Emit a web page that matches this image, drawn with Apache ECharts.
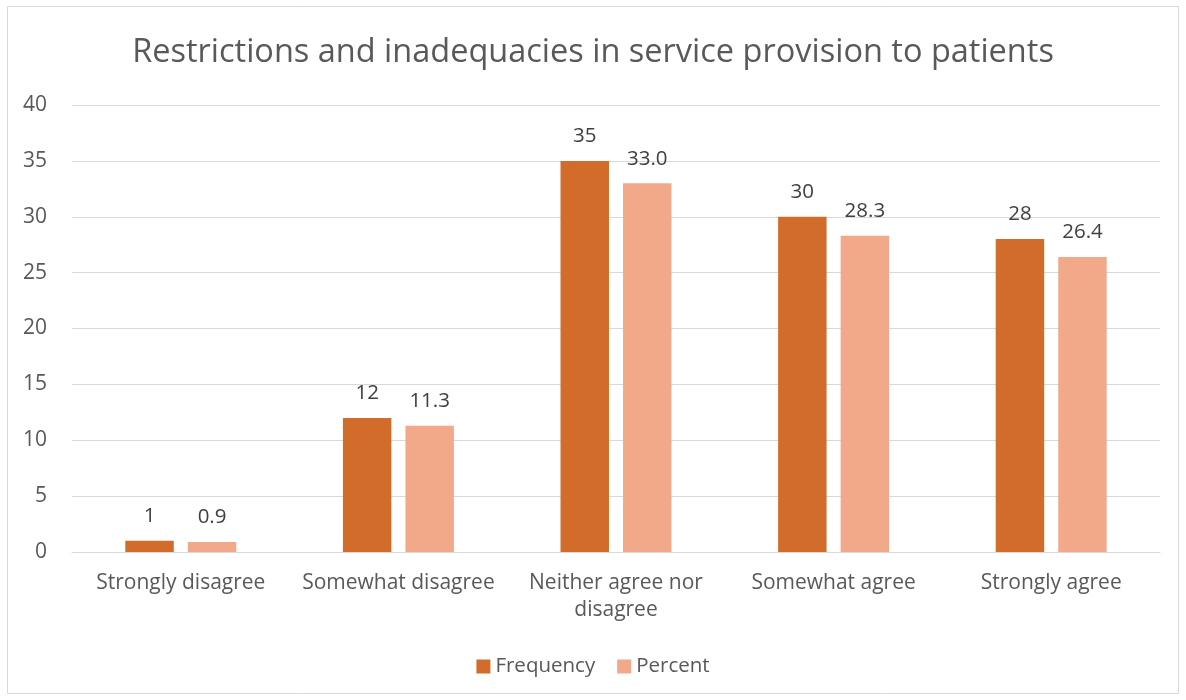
<!DOCTYPE html>
<html><head><meta charset="utf-8">
<script src="https://cdn.jsdelivr.net/npm/echarts@6/dist/echarts.min.js"></script>
<style>html,body{margin:0;padding:0;background:#fff}#c{width:1186px;height:700px}</style>
</head><body><div id="c"></div>
<script>
const categories = ['Strongly disagree', 'Somewhat disagree', 'Neither agree nor\ndisagree', 'Somewhat agree', 'Strongly agree'];
const frequency = [1, 12, 35, 30, 28];
const percent = [0.9, 11.3, 33.0, 28.3, 26.4];
const yTicks = {min: 0, max: 40, interval: 5};

const chart = echarts.init(document.getElementById('c'));
const font = '"Open Sans", "Liberation Sans", sans-serif';
chart.setOption({
  backgroundColor: '#fff',
  graphic: [{type: 'rect', shape: {x: 7.5, y: 6.5, width: 1171, height: 687}, style: {fill: 'none', stroke: '#d9d9d9', lineWidth: 1}}],
  title: {text: 'Restrictions and inadequacies in service provision to patients', left: 'center', top: 31,
    textStyle: {fontFamily: font, fontSize: 32.5, fontWeight: 'normal', color: '#595959'}},
  legend: {bottom: 18, left: 'center', itemWidth: 14, itemHeight: 14, itemGap: 22, icon: 'rect',
    textStyle: {fontFamily: font, fontSize: 20.5, color: '#595959'}},
  grid: {left: 72, right: 26, top: 105, bottom: 148},
  xAxis: {type: 'category', data: categories,
    axisLine: {lineStyle: {color: '#d9d9d9', width: 1}}, axisTick: {show: false},
    axisLabel: {fontFamily: font, fontSize: 21, color: '#595959', margin: 18, lineHeight: 27, interval: 0}},
  yAxis: {type: 'value', min: yTicks.min, max: yTicks.max, interval: yTicks.interval,
    axisLine: {show: false}, axisTick: {show: false},
    splitLine: {lineStyle: {color: '#d9d9d9', width: 1}},
    axisLabel: {fontFamily: font, fontSize: 21, color: '#595959', margin: 25}},
  series: [
    {name: 'Frequency', type: 'bar', data: frequency, barGap: '29%', barCategoryGap: '49%',
      itemStyle: {color: '#D26C2A'},
      label: {show: true, position: 'top', distance: 14, fontFamily: font, fontSize: 20.5, color: '#404040'}},
    {name: 'Percent', type: 'bar', data: percent,
      itemStyle: {color: '#F1A98A'},
      label: {show: true, position: 'top', distance: 14, fontFamily: font, fontSize: 20.5, color: '#404040',
        formatter: p => p.value.toFixed(1)}}
  ]
});
</script></body></html>
